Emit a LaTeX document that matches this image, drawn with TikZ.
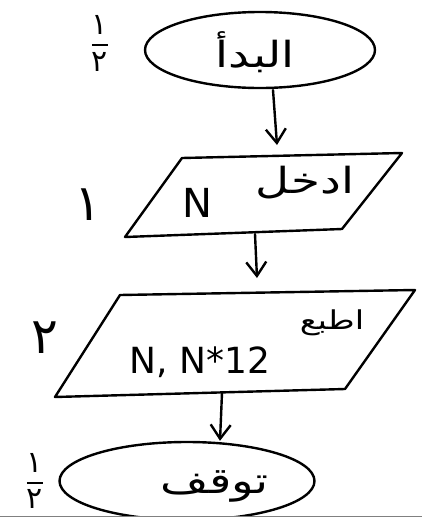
\documentclass[tikz,border=0pt]{standalone}
\usepackage{fontspec}
\setmainfont{DejaVu Sans}
\newfontfamily\arabicfont[Script=Arabic]{DejaVu Sans}
\TeXXeTstate=1
\usetikzlibrary{shapes.geometric,arrows.meta}
\newcommand{\myfrac}{\renewcommand{\arraystretch}{0.75}\setlength{\arrayrulewidth}{2pt}\begin{tabular}{@{}c@{}}١\\[2pt]\hline\rule{0pt}{25pt}٢\end{tabular}}
\begin{document}
\begin{tikzpicture}[x=1pt,y=-1pt,
  ink/.style={line width=2.4pt,line join=round,line cap=round},
  arr/.style={ink,-{Straight Barb[length=14pt,width=20pt,line width=2.4pt]}},
  term/.style={ink,ellipse,draw,inner sep=0pt},
  lbl/.style={font=\fontsize{36}{38}\selectfont\arabicfont,inner sep=0pt,xscale=1.3},
  num/.style={font=\fontsize{50}{52}\selectfont\arabicfont,inner sep=0pt},
  frac/.style={font=\fontsize{30}{32}\selectfont\arabicfont,inner sep=0pt}]
\useasboundingbox (0,0) rectangle (422,517);
% start
\node[term,minimum width=230pt,minimum height=76pt] (start) at (260,50) {};
\node[lbl] (starttxt) at (255,52) {\beginR البدأ\endR};
\node[frac] (f1) at (100,47) {\myfrac};
% input
\coordinate (i1) at (182,158);
\coordinate (i2) at (402,153);
\coordinate (i3) at (342,229);
\coordinate (i4) at (125,237);
\draw[ink] (i1) -- (i2) -- (i3) -- (i4) -- cycle;
\node[lbl] (intxt) at (305,183) {\beginR ادخل\endR};
\node[font=\fontsize{40}{42}\selectfont,inner sep=0pt] (inN) at (197,203) {N};
\node[num] (n1) at (88,205) {١};
% output
\coordinate (o1) at (120,295);
\coordinate (o2) at (415,290);
\coordinate (o3) at (345,389);
\coordinate (o4) at (55,397);
\draw[ink] (o1) -- (o2) -- (o3) -- (o4) -- cycle;
\node[font=\fontsize{26}{28}\selectfont\arabicfont,inner sep=0pt,xscale=1.3] (outtxt) at (332,323) {\beginR اطبع\endR};
\node[font=\fontsize{36}{38}\selectfont,inner sep=0pt] (outN) at (200,362) {N, N*12};
\node[num] (n2) at (45,338) {٢};
% stop
\node[term,minimum width=255pt,minimum height=78pt] (stop) at (187,481) {};
\node[lbl] (stoptxt) at (215,486) {\beginR توقف\endR};
\node[frac,anchor=south] (f2) at (35,516) {\myfrac};
% connectors
\coordinate (a1s) at (273,90);
\coordinate (a1e) at (277,145);
\coordinate (a2s) at (255,234);
\coordinate (a2e) at (257,278);
\coordinate (a3s) at (222,393);
\coordinate (a3e) at (220,443);
\draw[arr] (a1s) -- (a1e);
\draw[arr] (a2s) -- (a2e);
\draw[arr] (a3s) -- (stop.north -| a3e);
% bottom rule
\coordinate (b1) at (0,516);
\coordinate (b2) at (422,516);
\draw[line width=1pt,gray] (b1) -- (b2);
\end{tikzpicture}
\end{document}
